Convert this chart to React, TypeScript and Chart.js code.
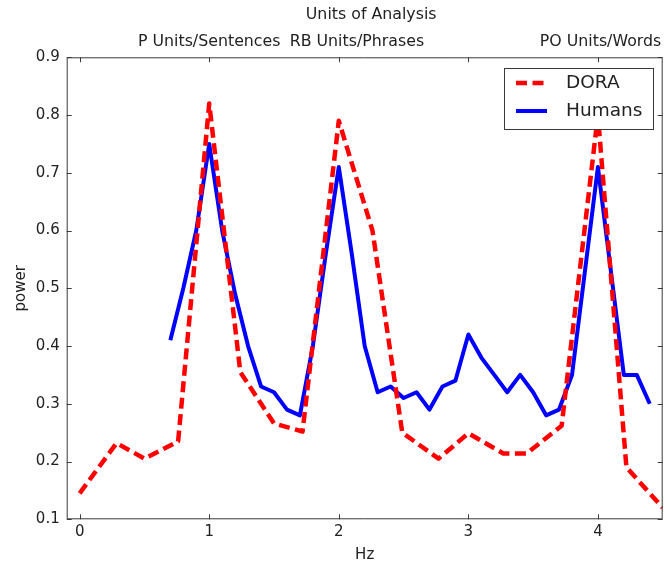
import React, { useEffect, useRef } from "react";
import { Chart, registerables } from "chart.js";

Chart.register(...registerables);

// ---- data ----
const HUMAN_HZ = [
  0.7, 0.8, 0.9, 1.0, 1.1, 1.2, 1.3, 1.4, 1.5, 1.6, 1.7, 1.8, 1.9, 2.0, 2.1, 2.2, 2.3, 2.4, 2.5,
  2.6, 2.7, 2.8, 2.9, 3.0, 3.1, 3.2, 3.3, 3.4, 3.5, 3.6, 3.7, 3.8, 3.9, 4.0, 4.1, 4.2, 4.3, 4.4,
];
const HUMAN_POWER = [
  0.41, 0.5, 0.6, 0.75, 0.6, 0.49, 0.4, 0.33, 0.32, 0.29, 0.28, 0.4, 0.56, 0.71, 0.56, 0.4, 0.32,
  0.33, 0.31, 0.32, 0.29, 0.33, 0.34, 0.42, 0.38, 0.35, 0.32, 0.35, 0.32, 0.28, 0.29, 0.35, 0.53,
  0.71, 0.53, 0.35, 0.35, 0.3,
];
const DORA_HZ = [
  0, 0.285, 0.5, 0.76, 1.0, 1.24, 1.5, 1.72, 2.0, 2.26, 2.49, 2.77, 3.0, 3.27, 3.45, 3.72, 4.0,
  4.22, 4.5,
];
const DORA_POWER = [
  0.145, 0.232, 0.205, 0.235, 0.82, 0.355, 0.266, 0.252, 0.79, 0.6, 0.25, 0.205, 0.249, 0.214,
  0.214, 0.262, 0.8, 0.19, 0.12,
];
const X_TICKS = [0, 1, 2, 3, 4];
const Y_TICKS = [0.1, 0.2, 0.3, 0.4, 0.5, 0.6, 0.7, 0.8, 0.9];
const X_LABEL = "Hz";
const Y_LABEL = "power";
const TOP_TITLE = "Units of Analysis";
const TOP_TITLE_POS = 2.25;
const UNIT_LABELS = ["P Units/Sentences", "RB Units/Phrases", "PO Units/Words"];
const UNIT_POS = [1.0, 2.14, 4.02];
const SERIES_NAMES = ["DORA", "Humans"];

const FONT = "'DejaVu Sans', 'Liberation Sans', sans-serif";
const TEXT = "#222222";
const FRAME = "#3a3a3a";

const framePlugin = {
  id: "frameTicks",
  afterDatasetsDraw(chart: any) {
    const { ctx, chartArea: a, scales } = chart;
    const xs = scales.x;
    const ys = scales.y;
    ctx.save();
    ctx.strokeStyle = FRAME;
    ctx.lineWidth = 1;
    ctx.beginPath();
    ctx.rect(a.left + 0.5, a.top + 0.5, a.right - a.left - 1, a.bottom - a.top - 1);
    ctx.stroke();
    const L = 5;
    ctx.beginPath();
    X_TICKS.forEach((v) => {
      const px = Math.round(xs.getPixelForValue(v)) + 0.5;
      ctx.moveTo(px, a.bottom);
      ctx.lineTo(px, a.bottom - L);
      ctx.moveTo(px, a.top);
      ctx.lineTo(px, a.top + L);
    });
    Y_TICKS.forEach((v) => {
      const py = Math.round(ys.getPixelForValue(v)) + 0.5;
      ctx.moveTo(a.left, py);
      ctx.lineTo(a.left + L, py);
      ctx.moveTo(a.right, py);
      ctx.lineTo(a.right - L, py);
    });
    ctx.stroke();

    // top labels
    ctx.fillStyle = TEXT;
    ctx.font = `15.8px ${FONT}`;
    ctx.textAlign = "center";
    ctx.textBaseline = "middle";
    ctx.fillText(TOP_TITLE, xs.getPixelForValue(TOP_TITLE_POS), a.top - 42);
    UNIT_LABELS.forEach((t, i) => {
      ctx.fillText(t, xs.getPixelForValue(UNIT_POS[i]), a.top - 15);
    });
    ctx.restore();
  },
  afterDraw(chart: any) {
    const { ctx, chartArea: a } = chart;
    const w = 149;
    const h = 61;
    const x0 = a.right - 9.7 - w;
    const y0 = a.top + 10.7;
    ctx.save();
    ctx.fillStyle = "#ffffff";
    ctx.fillRect(x0, y0, w, h);
    ctx.strokeStyle = FRAME;
    ctx.lineWidth = 1;
    ctx.strokeRect(Math.round(x0) + 0.5, Math.round(y0) + 0.5, w, h);
    chart.data.datasets.forEach((ds: any, i: number) => {
      const cy = y0 + 15 + i * 28;
      ctx.beginPath();
      ctx.strokeStyle = ds.borderColor;
      ctx.lineWidth = ds.borderWidth;
      ctx.lineCap = "butt";
      ctx.setLineDash(ds.borderDash || []);
      ctx.moveTo(x0 + 12, cy);
      ctx.lineTo(x0 + 43, cy);
      ctx.stroke();
      ctx.setLineDash([]);
      ctx.fillStyle = TEXT;
      ctx.font = `18.5px ${FONT}`;
      ctx.textAlign = "left";
      ctx.textBaseline = "middle";
      ctx.fillText(ds.label, x0 + 62, cy);
    });
    ctx.restore();
  },
};

export default function App() {
  const ref = useRef<HTMLCanvasElement | null>(null);
  useEffect(() => {
    if (!ref.current) return;
    const chart = new Chart(ref.current, {
      type: "line",
      data: {
        datasets: [
          {
            label: SERIES_NAMES[0],
            data: DORA_HZ.map((x, i) => ({ x, y: DORA_POWER[i] })),
            borderColor: "#ff0000",
            borderWidth: 4.5,
            borderDash: [11, 5.5],
            borderCapStyle: "butt",
            borderJoinStyle: "round",
            pointRadius: 0,
            fill: false,
            tension: 0,
          },
          {
            label: SERIES_NAMES[1],
            data: HUMAN_HZ.map((x, i) => ({ x, y: HUMAN_POWER[i] })),
            borderColor: "#0000ff",
            borderWidth: 4,
            borderCapStyle: "butt",
            borderJoinStyle: "round",
            pointRadius: 0,
            fill: false,
            tension: 0,
          },
        ],
      },
      options: {
        responsive: false,
        animation: false,
        devicePixelRatio: 1,
        layout: { padding: { top: 57.3, right: 2.3, left: 0, bottom: 0 } },
        plugins: { legend: { display: false }, tooltip: { enabled: false } },
        scales: {
          x: {
            type: "linear",
            min: -0.1,
            max: 4.5,
            afterBuildTicks: (s: any) => {
              s.ticks = X_TICKS.map((v) => ({ value: v }));
            },
            afterFit: (s: any) => {
              s.height = 43.7;
            },
            grid: { display: false, drawTicks: false },
            border: { display: false },
            ticks: {
              font: { family: FONT, size: 15 },
              color: TEXT,
              padding: 4,
              maxRotation: 0,
              callback: (v: any) => String(v),
            },
            title: {
              display: true,
              text: X_LABEL,
              font: { family: FONT, size: 15, lineHeight: 1 },
              color: TEXT,
              padding: { top: 0, bottom: 0.5 },
            },
          },
          y: {
            type: "linear",
            min: 0.1,
            max: 0.9,
            afterBuildTicks: (s: any) => {
              s.ticks = Y_TICKS.map((v) => ({ value: v }));
            },
            afterFit: (s: any) => {
              s.width = 66.7;
            },
            grid: { display: false, drawTicks: false },
            border: { display: false },
            ticks: {
              font: { family: FONT, size: 15 },
              color: TEXT,
              padding: 7,
              callback: (v: any) => Number(v).toFixed(1),
            },
            title: {
              display: true,
              text: Y_LABEL,
              font: { family: FONT, size: 15, lineHeight: 1 },
              color: TEXT,
              padding: { top: 13.5, bottom: 0 },
            },
          },
        },
      },
      plugins: [framePlugin],
    } as any);
    return () => chart.destroy();
  }, []);
  return (
    <div style={{ position: "fixed", left: 0, top: 0, width: 665, height: 563, background: "#fff" }}>
      <canvas ref={ref} width={665} height={563} style={{ display: "block" }} />
    </div>
  );
}
